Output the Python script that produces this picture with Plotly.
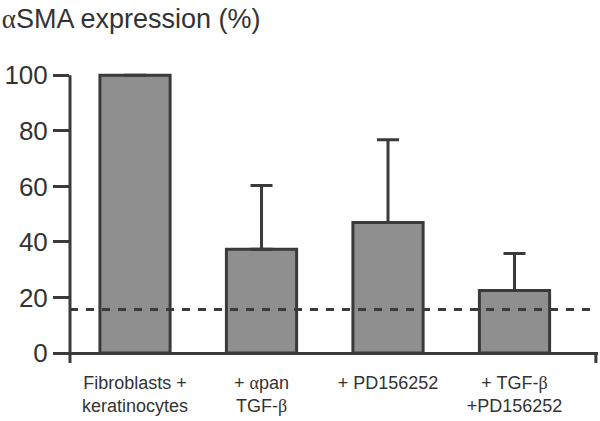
import plotly.graph_objects as go

A = "<span style=\"font-family:Liberation Serif\">α</span>"
B = "<span style=\"font-family:Liberation Serif\">β</span>"

categories = ["Fibroblasts +<br>keratinocytes", "+ " + A + "pan<br>TGF-" + B, "+ PD156252", "+ TGF-" + B + "<br>+PD156252"]
values = [100, 37.4, 47.0, 22.5]
errors_up = [0, 22.9, 29.8, 13.3]
baseline_level = 15.7
y_ticks = [0, 20, 40, 60, 80, 100]
title_text = A + "SMA expression (%)"

dark = "#3a3a3a"
x_pos = list(range(len(categories)))

fig = go.Figure()
fig.add_trace(go.Bar(
    x=x_pos, y=values, width=0.555,
    marker=dict(color="#8f8f8f", line=dict(color=dark, width=3)),
    error_y=dict(type="data", array=errors_up, arrayminus=[0]*len(values),
                 symmetric=False, color=dark, thickness=3, width=11),
))

fig.add_shape(type="line", xref="x domain", yref="y", x0=0, x1=1,
              y0=baseline_level, y1=baseline_level,
              line=dict(color=dark, width=3, dash="8px,8px"), layer="above")
fig.add_shape(type="line", xref="x domain", yref="y", x0=0.996, x1=0.996,
              y0=0, y1=-3.6, line=dict(color=dark, width=3), layer="above")
# y axis spine from 100 down to below zero
fig.add_shape(type="line", xref="paper", yref="y", x0=0, x1=0,
              y0=-3.6, y1=y_ticks[-1], line=dict(color=dark, width=3), layer="above")

fig.update_layout(
    width=600, height=421,
    margin=dict(l=70, r=2, t=72, b=58, autoexpand=False),
    plot_bgcolor="white", paper_bgcolor="white",
    showlegend=False,
    font=dict(family="Liberation Sans, Arial, sans-serif", color="#333333"),
    title=dict(text=title_text, x=0.003, xanchor="left",
               xref="container", y=1 - 19/421, yanchor="middle",
               font=dict(size=27, color="#333333")),
    xaxis=dict(range=[-0.514, 3.66], tickvals=x_pos, ticktext=categories,
               showline=False, showgrid=False, zeroline=False, ticks="",
               automargin=False,
               tickfont=dict(size=18, color="#333333"), ticklabelstandoff=7),
    yaxis=dict(range=[-3.6, 101.2], tickvals=y_ticks, showline=False,
               ticks="outside", ticklen=16,
               tickwidth=3, tickcolor=dark, showgrid=False, automargin=False,
               zeroline=True, zerolinecolor=dark, zerolinewidth=3,
               tickfont=dict(size=26, color="#333333"), ticklabelstandoff=0),
)

fig.write_html("out.html", config={"displayModeBar": False},
               post_script="document.body.style.margin='0';document.body.style.padding='0';")
